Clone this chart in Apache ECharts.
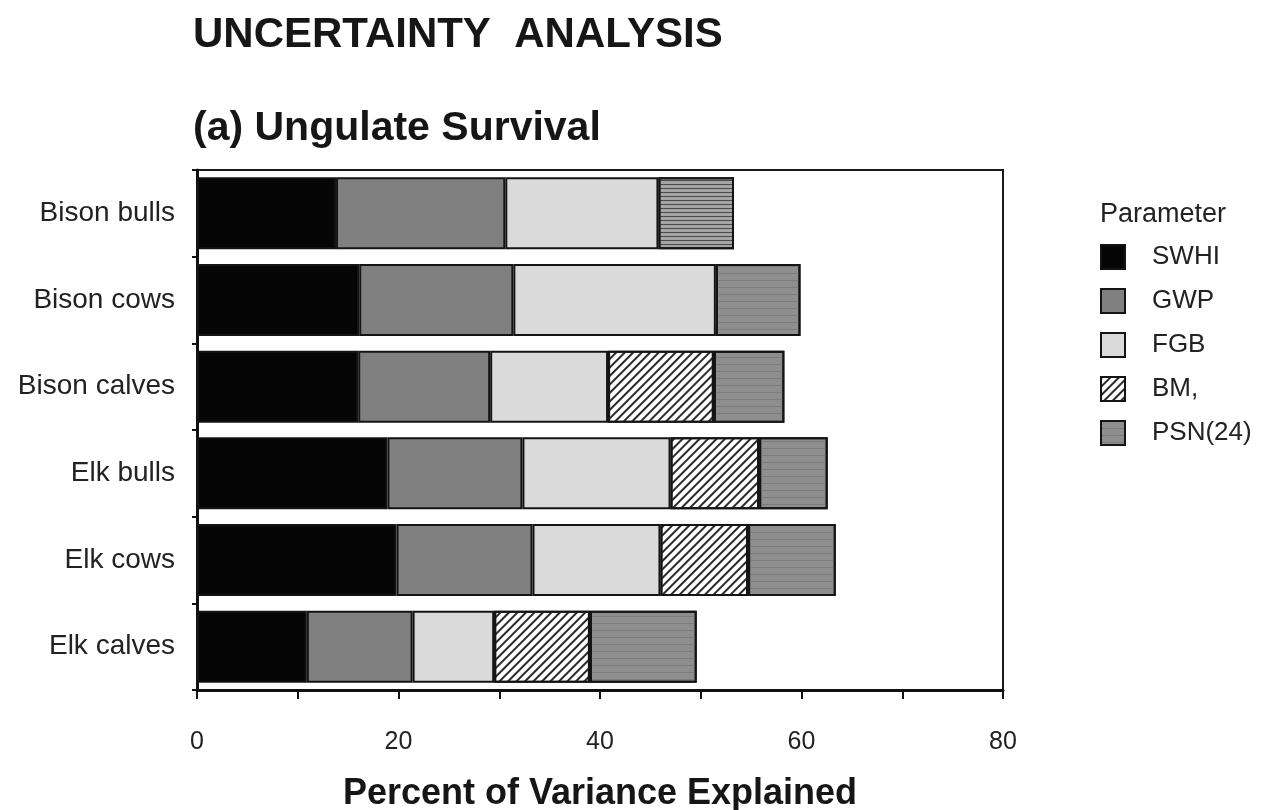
<!DOCTYPE html>
<html>
<head>
<meta charset="utf-8">
<title>Uncertainty Analysis</title>
<script src="https://cdn.jsdelivr.net/npm/echarts@6/dist/echarts.min.js"></script>
<style>
  html, body { margin: 0; padding: 0; background: #fff; }
  #chart { width: 1264px; height: 810px; }
</style>
</head>
<body>
<div id="chart"></div>
<script>
// Ungulate groups, top to bottom
const categories = ['Bison bulls', 'Bison cows', 'Bison calves', 'Elk bulls', 'Elk cows', 'Elk calves'];

// Percent of variance explained by each parameter (stacked segments)
const swhi = [13.8, 16.1, 16.0, 18.9, 19.8, 10.9];
const gwp  = [16.8, 15.3, 13.1, 13.4, 13.5, 10.5];
const fgb  = [15.2, 20.1, 11.7, 14.7, 12.7, 8.1];
const bm   = [null, null, 10.5, 8.8, 8.7, 9.5];
const psn  = [7.5, 8.4, 7.0, 6.8, 8.7, 10.6];

const seriesNames = ['SWHI', 'GWP', 'FGB', 'BM,', 'PSN(24)'];
const xTicks = [0, 20, 40, 60, 80];

const FONT = '"Liberation Sans", Arial, Helvetica, sans-serif';
const chart = echarts.init(document.getElementById('chart'), null, { renderer: 'canvas' });

const border = { borderColor: '#141414', borderWidth: 2 };

const styles = [
  { color: '#050505', ...border },
  { color: '#808080', ...border },
  { color: '#dadada', ...border },
  { color: '#ffffff', ...border,
    decal: { symbol: 'rect', symbolSize: 1, dashArrayX: [[1, 0]], dashArrayY: [1.5, 3.5],
             rotation: -Math.PI / 4, color: '#2a2a2a' } },
  { color: '#8e8e8e', ...border,
    decal: { symbol: 'rect', symbolSize: 1, dashArrayX: [[1, 0]], dashArrayY: [1, 6],
             color: '#7c7c7c' } }
];

// Bison bulls' last segment is printed with a sharper line screen
const psnData = psn.map((v, i) => i === 0
  ? { value: v, itemStyle: { color: '#a5a5a5',
      decal: { symbol: 'rect', symbolSize: 1, dashArrayX: [[1, 0]], dashArrayY: [1, 3], color: '#4a4a4a' } } }
  : v);

const values = [swhi, gwp, fgb, bm, psnData];

const series = seriesNames.map((name, k) => ({
  name,
  type: 'bar',
  stack: 'total',
  barWidth: '83%',
  data: values[k],
  itemStyle: styles[k],
  emphasis: { disabled: true }
}));

chart.setOption({
  animation: false,
  backgroundColor: '#fff',
  title: [
    { text: 'UNCERTAINTY  ANALYSIS', left: 188, top: 9,
      textStyle: { fontFamily: FONT, fontSize: 42, fontWeight: 'bold', color: '#161616' } },
    { text: '(a) Ungulate Survival', left: 188, top: 103,
      textStyle: { fontFamily: FONT, fontSize: 41, fontWeight: 'bold', color: '#161616' } },
    { text: 'Parameter', left: 1095, top: 196,
      textStyle: { fontFamily: FONT, fontSize: 27, fontWeight: 'normal', color: '#222' } }
  ],
  legend: {
    orient: 'vertical',
    left: 1095,
    top: 239,
    itemWidth: 24,
    itemHeight: 24,
    itemGap: 18,
    icon: 'rect',
    selectedMode: false,
    data: seriesNames,
    textStyle: { fontFamily: FONT, fontSize: 26, color: '#222', padding: [0, 0, 0, 22] }
  },
  grid: {
    left: 197, right: 261, top: 170, bottom: 120,
    outerBoundsMode: 'none',
    containLabel: false,
    show: true, borderColor: '#1a1a1a', borderWidth: 2, backgroundColor: 'transparent'
  },
  xAxis: {
    type: 'value',
    min: 0, max: 80, interval: 10,
    name: 'Percent of Variance Explained',
    nameLocation: 'middle',
    nameGap: 86,
    nameTextStyle: { fontFamily: FONT, fontSize: 36, fontWeight: 'bold', color: '#161616' },
    axisLine: { show: true, lineStyle: { color: '#111', width: 3 } },
    axisTick: { show: true, length: 9, lineStyle: { color: '#111', width: 2 } },
    axisLabel: {
      margin: 40, fontFamily: FONT, fontSize: 25, color: '#222',
      formatter: v => (xTicks.indexOf(v) >= 0 ? String(v) : '')
    },
    splitLine: { show: false }
  },
  yAxis: {
    type: 'category',
    inverse: true,
    data: categories,
    axisLine: { show: true, lineStyle: { color: '#111', width: 3 } },
    axisTick: { show: true, length: 5, lineStyle: { color: '#111', width: 2 } },
    axisLabel: { margin: 22, fontFamily: FONT, fontSize: 28, color: '#222', padding: [8, 0, 0, 0] }
  },
  series
});
</script>
</body>
</html>
